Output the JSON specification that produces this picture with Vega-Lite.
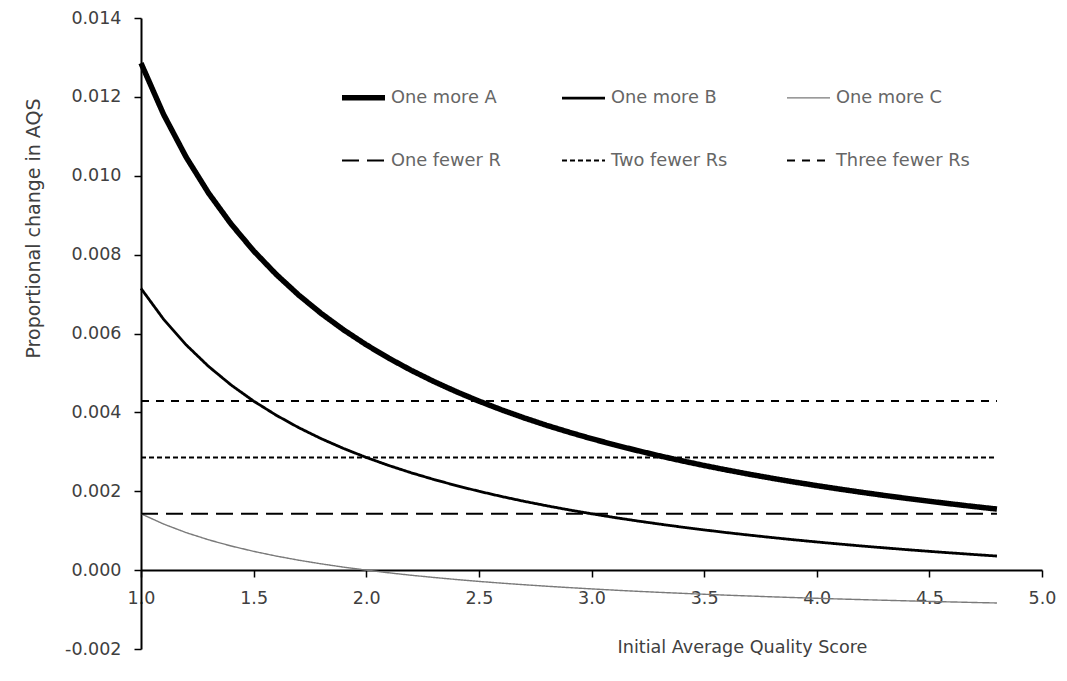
{
  "$schema": "https://vega.github.io/schema/vega-lite/v6.json",
  "width": 901,
  "height": 631,
  "autosize": "none",
  "padding": {"left": 141, "top": 18, "right": 25, "bottom": 32},
  "background": "white",
  "data": {"values": [
    {"series":"One more A","q":1.0,"v":0.012857},{"series":"One more A","q":1.1,"v":0.011558},{"series":"One more A","q":1.2,"v":0.010476},{"series":"One more A","q":1.3,"v":0.009560},{"series":"One more A","q":1.4,"v":0.008776},{"series":"One more A","q":1.5,"v":0.008095},{"series":"One more A","q":1.6,"v":0.0075},{"series":"One more A","q":1.7,"v":0.006975},{"series":"One more A","q":1.8,"v":0.006508},{"series":"One more A","q":1.9,"v":0.006090},{"series":"One more A","q":2.0,"v":0.005714},{"series":"One more A","q":2.1,"v":0.005374},{"series":"One more A","q":2.2,"v":0.005065},{"series":"One more A","q":2.3,"v":0.004783},{"series":"One more A","q":2.4,"v":0.004524},{"series":"One more A","q":2.5,"v":0.004286},{"series":"One more A","q":2.6,"v":0.004066},{"series":"One more A","q":2.7,"v":0.003862},{"series":"One more A","q":2.8,"v":0.003673},{"series":"One more A","q":2.9,"v":0.003498},{"series":"One more A","q":3.0,"v":0.003333},{"series":"One more A","q":3.1,"v":0.003180},{"series":"One more A","q":3.2,"v":0.003036},{"series":"One more A","q":3.3,"v":0.002900},{"series":"One more A","q":3.4,"v":0.002773},{"series":"One more A","q":3.5,"v":0.002653},{"series":"One more A","q":3.6,"v":0.002540},{"series":"One more A","q":3.7,"v":0.002432},{"series":"One more A","q":3.8,"v":0.002331},{"series":"One more A","q":3.9,"v":0.002234},{"series":"One more A","q":4.0,"v":0.002143},{"series":"One more A","q":4.1,"v":0.002056},{"series":"One more A","q":4.2,"v":0.001973},{"series":"One more A","q":4.3,"v":0.001894},{"series":"One more A","q":4.4,"v":0.001818},{"series":"One more A","q":4.5,"v":0.001746},{"series":"One more A","q":4.6,"v":0.001677},{"series":"One more A","q":4.7,"v":0.001611},{"series":"One more A","q":4.8,"v":0.001548},
    {"series":"One more B","q":1.0,"v":0.007143},{"series":"One more B","q":1.1,"v":0.006364},{"series":"One more B","q":1.2,"v":0.005714},{"series":"One more B","q":1.3,"v":0.005165},{"series":"One more B","q":1.4,"v":0.004694},{"series":"One more B","q":1.5,"v":0.004286},{"series":"One more B","q":1.6,"v":0.003929},{"series":"One more B","q":1.7,"v":0.003613},{"series":"One more B","q":1.8,"v":0.003333},{"series":"One more B","q":1.9,"v":0.003083},{"series":"One more B","q":2.0,"v":0.002857},{"series":"One more B","q":2.1,"v":0.002653},{"series":"One more B","q":2.2,"v":0.002468},{"series":"One more B","q":2.3,"v":0.002298},{"series":"One more B","q":2.4,"v":0.002143},{"series":"One more B","q":2.5,"v":0.002},{"series":"One more B","q":2.6,"v":0.001868},{"series":"One more B","q":2.7,"v":0.001746},{"series":"One more B","q":2.8,"v":0.001633},{"series":"One more B","q":2.9,"v":0.001527},{"series":"One more B","q":3.0,"v":0.001429},{"series":"One more B","q":3.1,"v":0.001336},{"series":"One more B","q":3.2,"v":0.00125},{"series":"One more B","q":3.3,"v":0.001169},{"series":"One more B","q":3.4,"v":0.001092},{"series":"One more B","q":3.5,"v":0.001020},{"series":"One more B","q":3.6,"v":0.000952},{"series":"One more B","q":3.7,"v":0.000888},{"series":"One more B","q":3.8,"v":0.000827},{"series":"One more B","q":3.9,"v":0.000769},{"series":"One more B","q":4.0,"v":0.000714},{"series":"One more B","q":4.1,"v":0.000662},{"series":"One more B","q":4.2,"v":0.000612},{"series":"One more B","q":4.3,"v":0.000565},{"series":"One more B","q":4.4,"v":0.000519},{"series":"One more B","q":4.5,"v":0.000476},{"series":"One more B","q":4.6,"v":0.000435},{"series":"One more B","q":4.7,"v":0.000395},{"series":"One more B","q":4.8,"v":0.000357},
    {"series":"One more C","q":1.0,"v":0.001429},{"series":"One more C","q":1.1,"v":0.001169},{"series":"One more C","q":1.2,"v":0.000952},{"series":"One more C","q":1.3,"v":0.000769},{"series":"One more C","q":1.4,"v":0.000612},{"series":"One more C","q":1.5,"v":0.000476},{"series":"One more C","q":1.6,"v":0.000357},{"series":"One more C","q":1.7,"v":0.000252},{"series":"One more C","q":1.8,"v":0.000159},{"series":"One more C","q":1.9,"v":0.000075},{"series":"One more C","q":2.0,"v":0.0},{"series":"One more C","q":2.1,"v":-0.000068},{"series":"One more C","q":2.2,"v":-0.000130},{"series":"One more C","q":2.3,"v":-0.000186},{"series":"One more C","q":2.4,"v":-0.000238},{"series":"One more C","q":2.5,"v":-0.000286},{"series":"One more C","q":2.6,"v":-0.000330},{"series":"One more C","q":2.7,"v":-0.000370},{"series":"One more C","q":2.8,"v":-0.000408},{"series":"One more C","q":2.9,"v":-0.000443},{"series":"One more C","q":3.0,"v":-0.000476},{"series":"One more C","q":3.1,"v":-0.000507},{"series":"One more C","q":3.2,"v":-0.000536},{"series":"One more C","q":3.3,"v":-0.000563},{"series":"One more C","q":3.4,"v":-0.000588},{"series":"One more C","q":3.5,"v":-0.000612},{"series":"One more C","q":3.6,"v":-0.000635},{"series":"One more C","q":3.7,"v":-0.000656},{"series":"One more C","q":3.8,"v":-0.000677},{"series":"One more C","q":3.9,"v":-0.000696},{"series":"One more C","q":4.0,"v":-0.000714},{"series":"One more C","q":4.1,"v":-0.000732},{"series":"One more C","q":4.2,"v":-0.000748},{"series":"One more C","q":4.3,"v":-0.000764},{"series":"One more C","q":4.4,"v":-0.000779},{"series":"One more C","q":4.5,"v":-0.000794},{"series":"One more C","q":4.6,"v":-0.000807},{"series":"One more C","q":4.7,"v":-0.000821},{"series":"One more C","q":4.8,"v":-0.000833},
    {"series":"One fewer R","q":1.0,"v":0.001429},{"series":"One fewer R","q":4.8,"v":0.001429},
    {"series":"Two fewer Rs","q":1.0,"v":0.002857},{"series":"Two fewer Rs","q":4.8,"v":0.002857},
    {"series":"Three fewer Rs","q":1.0,"v":0.004286},{"series":"Three fewer Rs","q":4.8,"v":0.004286}
  ]},
  "mark": {"type": "line", "strokeCap": "butt", "clip": false},
  "encoding": {
    "x": {
      "field": "q", "type": "quantitative",
      "scale": {"domain": [1, 5], "nice": false, "zero": false},
      "axis": {
        "values": [1, 1.5, 2, 2.5, 3, 3.5, 4, 4.5, 5],
        "format": ".1f",
        "offset": -79,
        "title": "Initial Average Quality Score",
        "titleX": 601, "titleY": 68, "titleAnchor": null, "titleAlign": "center", "titleBaseline": "top",
        "titleColor": "#404040", "titleFontSize": 17.6, "titleFontWeight": "normal", "titleFont": "DejaVu Sans",
        "labelFont": "DejaVu Sans", "labelFontSize": 17.5, "labelColor": "#404040", "labelPadding": 12,
        "domainColor": "#000000", "domainWidth": 2, "tickColor": "#000000", "tickWidth": 1.5, "tickSize": 7,
        "grid": false, "labelOverlap": false, "labelFlush": false
      }
    },
    "y": {
      "field": "v", "type": "quantitative",
      "scale": {"domain": [-0.002, 0.014], "nice": false, "zero": false},
      "axis": {
        "values": [-0.002, 0, 0.002, 0.004, 0.006, 0.008, 0.01, 0.012, 0.014],
        "labelExpr": "replace(format(datum.value, '.3f'), '\u2212', '-')",
        "title": "Proportional change in AQS",
        "titleX": -108, "titleY": 210, "titleAngle": -90, "titleAnchor": null, "titleAlign": "center", "titleBaseline": "middle",
        "titleColor": "#404040", "titleFontSize": 19, "titleFontWeight": "normal", "titleFont": "DejaVu Sans",
        "labelFont": "DejaVu Sans", "labelFontSize": 17.5, "labelColor": "#404040", "labelPadding": 13,
        "domainColor": "#000000", "domainWidth": 2, "tickColor": "#000000", "tickWidth": 1.5, "tickSize": 7,
        "grid": false, "labelOverlap": false, "labelFlush": false
      }
    },
    "color": {
      "field": "series", "type": "nominal",
      "scale": {"domain": ["One more A","One more B","One more C","One fewer R","Two fewer Rs","Three fewer Rs"],
                "range": ["#000000","#000000","#7a7a7a","#000000","#000000","#000000"]},
      "legend": {"title": null}
    },
    "strokeDash": {
      "field": "series", "type": "nominal",
      "scale": {"domain": ["One more A","One more B","One more C","One fewer R","Two fewer Rs","Three fewer Rs"],
                "range": [[1,0],[1,0],[1,0],[17,8],[5,3],[8,7]]},
      "legend": {"title": null}
    },
    "strokeWidth": {
      "field": "series", "type": "nominal",
      "scale": {"type": "ordinal", "domain": ["One more A","One more B","One more C","One fewer R","Two fewer Rs","Three fewer Rs"],
                "range": [5.5, 2.8, 1.4, 2, 2, 2]},
      "legend": {"title": null}
    }
  },
  "config": {
    "view": {"stroke": null},
    "legend": {
      "orient": "none", "legendX": 198, "legendY": 55, "columns": 3, "direction": "horizontal",
      "symbolType": "stroke", "symbolSize": 1849, "columnPadding": 55, "rowPadding": 29,
      "labelFont": "DejaVu Sans", "labelFontSize": 17.8, "labelColor": "#666666", "labelOffset": 3, "labelLimit": 300,
      "padding": 0, "symbolDashOffset": 0
    }
  }
}
